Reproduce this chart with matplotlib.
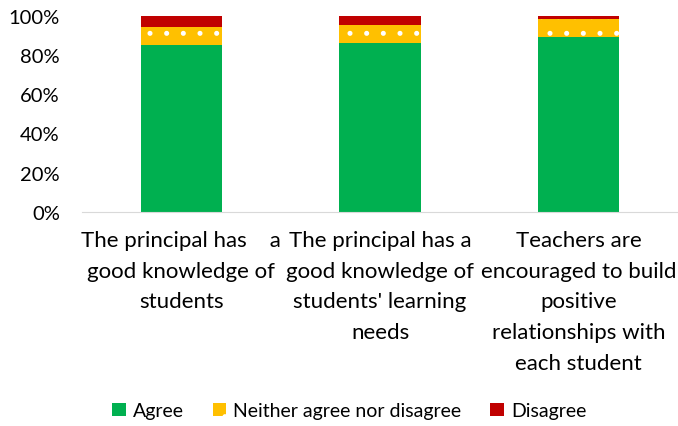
import matplotlib.pyplot as plt
import matplotlib as mpl
from matplotlib.ticker import PercentFormatter

plt.rcParams['font.family'] = ['Lato', 'DejaVu Sans']
mpl.rcParams['hatch.linewidth'] = 1.2

categories = ["The principal has    a\ngood knowledge of\nstudents",
              "The principal has a\ngood knowledge of\nstudents' learning\nneeds",
              "Teachers are\nencouraged to build\npositive\nrelationships with\neach student"]
agree = [85.3, 86.2, 89.4]
neither = [8.9, 9.2, 9.1]
disagree = [5.8, 4.6, 1.5]

fig = plt.figure(figsize=(6.78, 4.27), dpi=100)
ax = fig.add_axes([0.121, 0.502, 0.879, 0.458])

x = range(len(categories))
ax.bar(x, agree, width=0.41, color='#00b050', label='Agree')
bottom2 = [a for a in agree]
ax.bar(x, neither, width=0.41, bottom=bottom2, color='#ffc000', edgecolor='white',
       hatch='.', linewidth=0, label='Neither agree nor disagree')
bottom3 = [a + n for a, n in zip(agree, neither)]
ax.bar(x, disagree, width=0.41, bottom=bottom3, color='#c00000', label='Disagree')

ax.set_xlim(-0.5, 2.5)
ax.set_ylim(0, 100)
ax.set_yticks([0, 20, 40, 60, 80, 100])
ax.yaxis.set_major_formatter(PercentFormatter(decimals=0))
ax.set_xticks(list(x))
ax.set_xticklabels(categories, fontsize=16, linespacing=1.68)
ax.tick_params(axis='y', labelsize=14.5, length=0, pad=16)
ax.tick_params(axis='x', length=0, pad=13)
for s in ['top', 'right', 'left']:
    ax.spines[s].set_visible(False)
ax.spines['bottom'].set_color('#d9d9d9')

fig.legend(loc='lower center', bbox_to_anchor=(0.515, -0.025), ncol=3, frameon=False,
           fontsize=14, handlelength=0.7, handleheight=0.7, columnspacing=1.5,
           handletextpad=0.35)

fig.savefig('out.png', dpi=100)
